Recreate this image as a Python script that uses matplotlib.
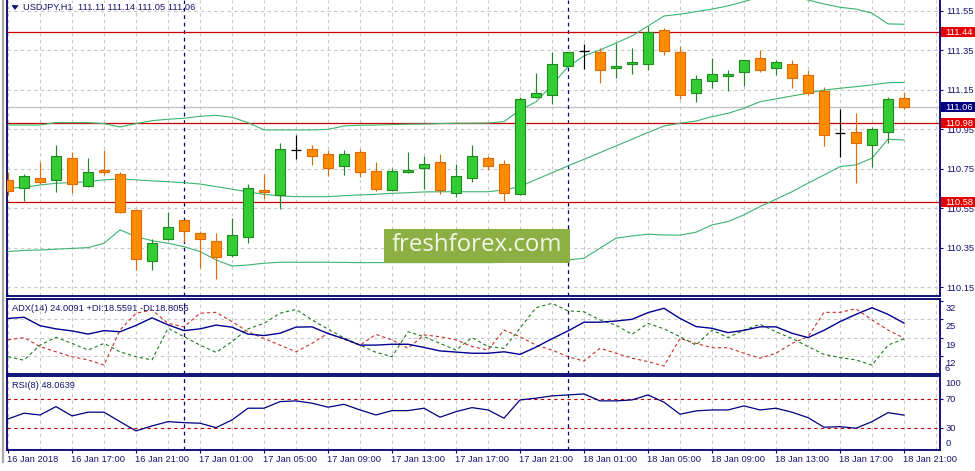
import matplotlib
matplotlib.use("Agg")
import matplotlib.pyplot as plt
from matplotlib.patches import Rectangle, Polygon
from matplotlib.lines import Line2D
import matplotlib.transforms as mtrans

plt.rcParams['font.family'] = ['Liberation Sans', 'DejaVu Sans']

# ---------------- data ----------------
opens = [110.693, 110.651, 110.702, 110.691, 110.803, 110.661, 110.744, 110.723, 110.539, 110.281,
         110.393, 110.489, 110.423, 110.382, 110.311, 110.403, 110.642, 110.619, 110.842, 110.848,
         110.825, 110.764, 110.833, 110.740, 110.641, 110.732, 110.752, 110.783, 110.629, 110.702,
         110.804, 110.773, 110.621, 111.112, 111.122, 111.269, 111.347, 111.339, 111.258, 111.278,
         111.278, 111.452, 111.339, 111.132, 111.193, 111.221, 111.238, 111.309, 111.258, 111.278,
         111.223, 111.142, 110.929, 110.937, 110.868, 110.937, 111.11]
highs = [110.735, 110.723, 110.784, 110.870, 110.836, 110.803, 110.845, 110.733, 110.540, 110.392,
         110.529, 110.491, 110.433, 110.423, 110.500, 110.673, 110.723, 110.879, 110.919, 110.870,
         110.845, 110.845, 110.850, 110.783, 110.752, 110.835, 110.814, 110.824, 110.774, 110.870,
         110.814, 110.794, 111.112, 111.236, 111.339, 111.342, 111.381, 111.360, 111.388, 111.360,
         111.474, 111.461, 111.371, 111.223, 111.309, 111.248, 111.301, 111.351, 111.299, 111.299,
         111.248, 111.162, 111.051, 111.030, 110.959, 111.112, 111.14]
lows = [110.617, 110.588, 110.670, 110.631, 110.629, 110.658, 110.720, 110.527, 110.237, 110.238,
        110.391, 110.380, 110.249, 110.189, 110.305, 110.372, 110.598, 110.548, 110.801, 110.769,
        110.713, 110.716, 110.710, 110.639, 110.639, 110.730, 110.649, 110.621, 110.608, 110.680,
        110.742, 110.588, 110.619, 111.110, 111.079, 111.267, 111.256, 111.182, 111.211, 111.228,
        111.248, 111.327, 111.101, 111.089, 111.160, 111.142, 111.170, 111.238, 111.223, 111.160,
        111.122, 110.866, 110.811, 110.679, 110.760, 110.878, 111.05]
closes = [110.639, 110.712, 110.681, 110.813, 110.672, 110.732, 110.732, 110.529, 110.291, 110.372,
          110.453, 110.433, 110.393, 110.301, 110.413, 110.651, 110.631, 110.848, 110.842, 110.813,
          110.754, 110.825, 110.732, 110.649, 110.740, 110.742, 110.773, 110.641, 110.712, 110.815,
          110.762, 110.629, 111.101, 111.132, 111.279, 111.339, 111.347, 111.248, 111.269, 111.289,
          111.440, 111.347, 111.122, 111.203, 111.228, 111.228, 111.299, 111.248, 111.289, 111.211,
          111.132, 110.919, 110.929, 110.878, 110.949, 111.101, 111.06]

bb_upper = [110.971, 110.971, 110.971, 110.983, 110.983, 110.983, 110.978, 110.961, 110.978, 110.993,
            111.000, 111.005, 111.015, 111.020, 111.010, 110.983, 110.946, 110.946, 110.946, 110.946,
            110.949, 110.966, 110.970, 110.971, 110.973, 110.975, 110.976, 110.978, 110.980, 110.980,
            110.981, 110.988, 111.047, 111.088, 111.174, 111.266, 111.321, 111.351, 111.386, 111.422,
            111.472, 111.523, 111.532, 111.545, 111.558, 111.574, 111.596, 111.619, 111.629, 111.624,
            111.604, 111.584, 111.567, 111.558, 111.537, 111.483, 111.481]
bb_middle = [110.651, 110.656, 110.667, 110.676, 110.679, 110.684, 110.693, 110.698, 110.693, 110.688,
             110.684, 110.679, 110.672, 110.659, 110.646, 110.632, 110.620, 110.612, 110.608, 110.608,
             110.608, 110.613, 110.617, 110.620, 110.625, 110.628, 110.632, 110.633, 110.633, 110.633,
             110.633, 110.642, 110.659, 110.695, 110.729, 110.764, 110.797, 110.831, 110.865, 110.899,
             110.933, 110.966, 110.980, 110.991, 111.013, 111.030, 111.056, 111.089, 111.103, 111.118,
             111.132, 111.148, 111.157, 111.165, 111.174, 111.185, 111.187]
bb_lower = [110.330, 110.336, 110.338, 110.342, 110.346, 110.350, 110.372, 110.440, 110.406, 110.385,
            110.372, 110.355, 110.330, 110.288, 110.257, 110.262, 110.271, 110.276, 110.276, 110.276,
            110.276, 110.275, 110.274, 110.274, 110.274, 110.274, 110.274, 110.274, 110.274, 110.274,
            110.274, 110.275, 110.283, 110.285, 110.288, 110.288, 110.296, 110.347, 110.398, 110.409,
            110.418, 110.414, 110.413, 110.428, 110.465, 110.482, 110.516, 110.558, 110.595, 110.633,
            110.676, 110.718, 110.760, 110.769, 110.803, 110.899, 110.895]

adx = [25.6, 26.0, 23.1, 22.0, 21.3, 20.2, 21.4, 21.0, 23.2, 25.8,
       23.4, 21.4, 22.0, 23.3, 22.6, 20.2, 19.7, 20.5, 22.6, 22.7,
       20.4, 18.6, 16.4, 16.4, 16.7, 16.7, 15.6, 14.4, 14.0, 13.6,
       13.6, 14.1, 13.2, 15.7, 18.6, 21.3, 24.3, 24.3, 24.7, 25.3,
       27.6, 29.1, 25.6, 22.8, 22.2, 20.7, 21.5, 22.7, 22.7, 20.5,
       19.0, 21.5, 24.5, 27.0, 29.3, 27.0, 24.0]
plus_di = [12.4, 11.2, 16.4, 19.1, 17.0, 14.7, 17.0, 14.1, 12.4, 11.3,
           22.2, 19.3, 16.4, 13.9, 17.6, 22.0, 23.9, 27.4, 28.7, 25.1,
           21.9, 18.9, 16.4, 13.9, 12.4, 21.0, 19.3, 17.0, 14.7, 19.0,
           15.9, 15.3, 22.2, 29.3, 30.8, 28.2, 27.9, 25.1, 23.3, 20.1,
           23.9, 22.0, 19.3, 16.4, 21.6, 19.0, 21.6, 23.6, 21.0, 18.7,
           15.9, 13.2, 12.1, 11.3, 9.5, 16.4, 18.56]
minus_di = [18.2, 19.0, 15.9, 14.1, 12.4, 11.3, 9.5, 21.6, 27.4, 28.5,
            23.9, 22.7, 27.4, 27.7, 24.5, 21.0, 18.7, 16.4, 14.1, 17.0,
            20.5, 18.4, 16.4, 20.1, 18.2, 15.3, 19.9, 19.3, 18.2, 15.9,
            14.7, 21.6, 19.3, 16.4, 14.7, 12.4, 10.9, 15.3, 13.6, 11.9,
            10.7, 9.2, 18.7, 17.0, 15.5, 15.5, 13.6, 11.9, 13.6, 17.0,
            19.3, 27.7, 27.7, 28.9, 25.1, 21.6, 18.81]
rsi = [42.8, 50.7, 48.3, 59.8, 47.0, 52.1, 52.1, 39.1, 26.3, 33.2,
       39.1, 37.7, 36.9, 30.8, 41.4, 57.6, 57.6, 66.7, 67.7, 64.5,
       59.0, 63.0, 55.2, 48.3, 54.3, 54.3, 57.6, 45.2, 52.9, 58.4,
       55.2, 43.8, 69.0, 71.4, 74.6, 75.9, 77.3, 67.7, 67.7, 69.0,
       75.9, 65.9, 49.3, 53.9, 55.2, 55.2, 60.8, 55.2, 57.6, 52.1,
       44.6, 31.4, 32.2, 30.0, 39.1, 51.5, 48.06]

level_prices = [111.44, 110.98, 110.58]
level_labels = ["111.44", "110.98", "110.58"]
bid_price = 111.06
bid_label = "111.06"
price_ticks = [110.15, 110.35, 110.55, 110.75, 110.95, 111.15, 111.35, 111.55]
price_tick_labels = ["110.15", "110.35", "110.55", "110.75", "110.95", "111.15", "111.35", "111.55"]
adx_ticks = [31.6, 25.3, 19.0, 12.6]
adx_tick_labels = ["32", "25", "19", "12"]
rsi_levels = [70, 30]
time_tick_pos = [0, 4, 8, 12, 16, 20, 24, 28, 32, 36, 40, 44, 48, 52, 56]
time_tick_labels = ["16 Jan 2018", "16 Jan 17:00", "16 Jan 21:00", "17 Jan 01:00", "17 Jan 05:00",
                    "17 Jan 09:00", "17 Jan 13:00", "17 Jan 17:00", "17 Jan 21:00", "18 Jan 01:00",
                    "18 Jan 05:00", "18 Jan 09:00", "18 Jan 13:00", "18 Jan 17:00", "18 Jan 21:00"]
day_separators = [11, 35]

header = "USDJPY,H1  111.11 111.14 111.05 111.06"
adx_title = "ADX(14) 24.0091 +DI:18.5591 -DI:18.8056"
rsi_title = "RSI(8) 48.0639"

# ---------------- styles ----------------
W, H = 975, 471
NAVY = '#00006e'
TXT = '#141470'
GRID = '#c8c8c8'
FS = 6.7
fig = plt.figure(figsize=(W / 100, H / 100), dpi=100)
fig.patch.set_facecolor('white')


def frac(x0, y0, x1, y1):
    return [x0 / W, 1 - y1 / H, (x1 - x0) / W, (y1 - y0) / H]


ax = fig.add_axes(frac(7, 0, 940, 296))
ax_adx = fig.add_axes(frac(7, 299, 940, 374))
ax_rsi = fig.add_axes(frac(7, 376, 940, 450))

n = len(opens)
idx = list(range(n))
xlim = (-0.0625, 58.25)

for a in (ax, ax_adx, ax_rsi):
    a.set_xlim(*xlim)
    a.set_facecolor('white')
    for s in a.spines.values():
        s.set_color(NAVY)
        s.set_linewidth(1.3)
    for gx in range(0, 59, 2):
        a.axvline(gx, color=GRID, lw=0.8, ls=(0, (3, 3)), zorder=0)
    for d in day_separators:
        a.axvline(d, color='#000080', lw=0.9, ls=(0, (3, 3)), zorder=2)
    a.tick_params(axis='x', bottom=False, labelbottom=False)
    a.tick_params(axis='y', left=False, labelleft=False, right=True, labelright=True,
                  length=2.2, width=0.8, color=NAVY, labelsize=FS, labelcolor=TXT, pad=2)
ax.spines['top'].set_visible(False)

# ---------------- main price panel ----------------
ax.set_ylim(110.105, 111.604)
for p in price_ticks:
    ax.axhline(p, color=GRID, lw=0.8, ls=(0, (3, 3)), zorder=0)
ax.set_yticks(price_ticks)
ax.set_yticklabels(price_tick_labels)

ax.axhline(bid_price, color='#c4c4c4', lw=1.0, zorder=1)
for lv in level_prices:
    ax.axhline(lv, color='#cc0000', lw=0.9, zorder=2)

bb_col = '#3cb371'
ax.plot(idx, bb_upper, color=bb_col, lw=0.8, zorder=3)
ax.plot(idx, bb_middle, color=bb_col, lw=0.8, zorder=3)
ax.plot(idx, bb_lower, color=bb_col, lw=0.8, zorder=3)

for i in idx:
    o, h, l, c = opens[i], highs[i], lows[i], closes[i]
    if c > o:
        fill, edge = '#32cd32', '#1f8a1f'
    elif c < o:
        fill, edge = '#ff8c00', '#e06a00'
    else:
        fill, edge = None, 'black'
    ax.vlines(i, l, h, color=edge, lw=0.85, zorder=4)
    if fill is None:
        ax.hlines(o, i - 0.34, i + 0.34, color='black', lw=0.9, zorder=5)
    else:
        ax.add_patch(Rectangle((i - 0.29, min(o, c)), 0.58, abs(c - o),
                               facecolor=fill, edgecolor=edge, lw=0.8, zorder=5))

# watermark
ax.add_patch(Rectangle((0.404, 0.1125), 0.1995, 0.1149, transform=ax.transAxes,
                       facecolor='#8cb043', edgecolor='none', zorder=8))
ax.text(0.5036, 0.172, "freshforex.com", transform=ax.transAxes, ha='center', va='center',
        fontsize=17.3, family=['Open Sans', 'DejaVu Sans'], color='#f3f6e8', zorder=9)

# price boxes on the right scale (box: 941px -> right edge, ~10px tall)
ytr = ax.get_yaxis_transform()
box_h = 10 * (111.604 - 110.105) / 296.0
box_w = (W - 941) / 933.0
for lv, lab, colr in zip(level_prices + [bid_price], level_labels + [bid_label],
                         ['#e60000'] * len(level_prices) + ['#000080']):
    ax.add_patch(Rectangle((1.0011, lv - box_h / 2), box_w, box_h, transform=ytr,
                           facecolor=colr, edgecolor='none', clip_on=False, zorder=19))
    ax.text(1.0055, lv, lab, transform=ytr, ha='left', va='center', fontsize=FS, color='white',
            clip_on=False, zorder=20)

# ---------------- ADX panel ----------------
ax_adx.set_ylim(6.44, 32.3)
for v in adx_ticks[1:]:
    ax_adx.axhline(v, color=GRID, lw=0.8, ls=(0, (3, 3)), zorder=0)
ax_adx.set_yticks(adx_ticks)
ax_adx.tick_params(axis='y', labelright=False)
ax_adx.plot(idx, minus_di, color='#c8302a', lw=0.8, ls=(0, (3, 2.5)), zorder=3)
ax_adx.plot(idx, plus_di, color='#1e7a1e', lw=0.8, ls=(0, (3, 2.5)), zorder=3)
ax_adx.plot(idx, adx, color='#000090', lw=1.0, zorder=4)
tr_adx = mtrans.offset_copy(ax_adx.get_yaxis_transform(), fig=fig, x=0, y=-7.5, units='dots')
for v, s in zip(adx_ticks, adx_tick_labels):
    ax_adx.text(1.0055, v, s, transform=tr_adx, ha='left', va='center', fontsize=FS,
                color=TXT, clip_on=False)
ax_adx.text(1.0045, 0.075, "6", transform=ax_adx.transAxes, ha='left', va='center',
            fontsize=FS, color=TXT, clip_on=False)

# ---------------- RSI panel ----------------
ax_rsi.set_ylim(0, 102)
for lv in rsi_levels:
    ax_rsi.axhline(lv, color='#c00000', lw=0.8, ls=(0, (3, 3)), zorder=2)
ax_rsi.plot(idx, rsi, color='#000080', lw=0.9, zorder=4)
ax_rsi.set_yticks(rsi_levels)
ax_rsi.tick_params(axis='y', labelright=False)
rtr = ax_rsi.get_yaxis_transform()
for v in rsi_levels:
    ax_rsi.text(1.0055, v, str(v), transform=rtr, ha='left', va='center', fontsize=FS,
                color=TXT, clip_on=False)
ax_rsi.text(1.0055, 0.905, "100", transform=ax_rsi.transAxes, ha='left', va='center',
            fontsize=FS, color=TXT, clip_on=False)
ax_rsi.text(1.0055, 0.09, "0", transform=ax_rsi.transAxes, ha='left', va='center',
            fontsize=FS, color=TXT, clip_on=False)

ax_rsi.set_xticks(time_tick_pos)
ax_rsi.set_xticklabels(time_tick_labels, ha='left')
ax_rsi.tick_params(axis='x', bottom=True, labelbottom=True, length=2.2, width=0.8,
                   color=NAVY, labelsize=FS, labelcolor=TXT, pad=1.5)
for lbl in ax_rsi.get_xticklabels():
    lbl.set_transform(lbl.get_transform() + mtrans.ScaledTranslation(-1 / 100, 0, fig.dpi_scale_trans))

# ---------------- texts / decorations ----------------
fig.add_artist(Line2D([3 / W, 3 / W], [1 - 462 / H, 1], transform=fig.transFigure,
                      color='#a8a8a8', lw=1.6))
fig.add_artist(Polygon([[12 / W, 1 - 5.5 / H], [18 / W, 1 - 5.5 / H], [15 / W, 1 - 9.5 / H]],
                       closed=True, transform=fig.transFigure, facecolor=TXT, edgecolor=TXT, lw=0.5))
fig.text(23 / W, 1 - 7.5 / H, header, fontsize=FS, ha='left', va='center', color=TXT)
fig.text(12.5 / W, 1 - 308.5 / H, adx_title, fontsize=FS, ha='left', va='center', color=TXT)
fig.text(12.5 / W, 1 - 385 / H, rsi_title, fontsize=FS, ha='left', va='center', color=TXT)

fig.savefig("out.png", dpi=100)
